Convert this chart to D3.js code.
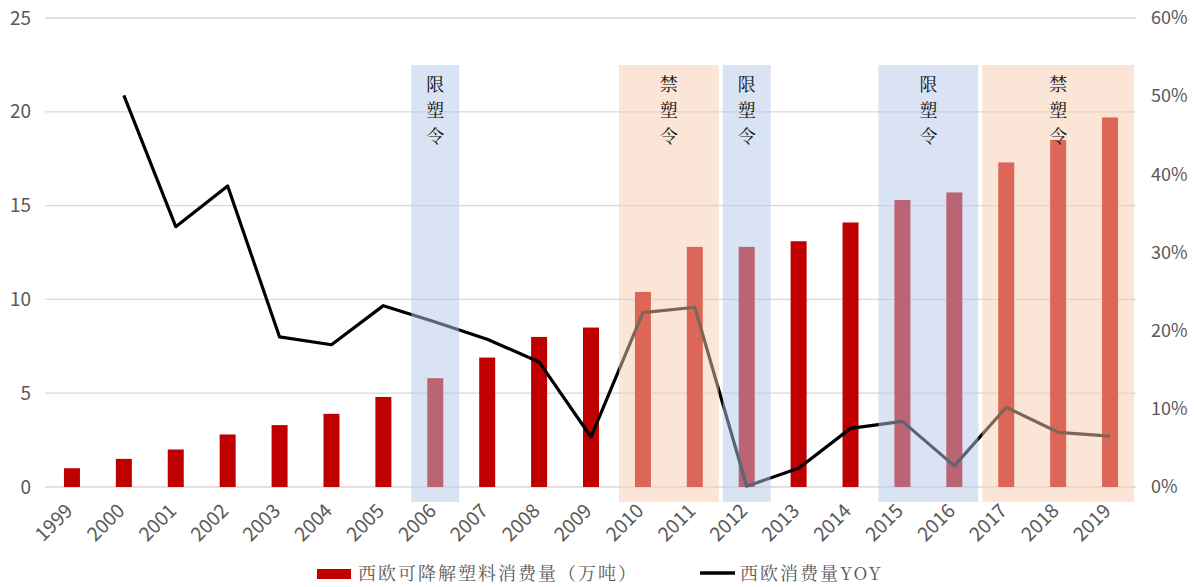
<!DOCTYPE html>
<html><head><meta charset="utf-8">
<script src="https://cdn.jsdelivr.net/npm/d3@7"></script>
<style>body{margin:0;background:#fff}svg{display:block}</style>
</head><body>
<script>
const years = ["1999","2000","2001","2002","2003","2004","2005","2006","2007","2008","2009","2010","2011","2012","2013","2014","2015","2016","2017","2018","2019"];
const consumption = [1.0,1.5,2.0,2.8,3.3,3.9,4.8,5.8,6.9,8.0,8.5,10.4,12.8,12.8,13.1,14.1,15.3,15.7,17.3,18.5,19.7];
const yoy = [null,50.1,33.3,38.5,19.2,18.2,23.2,21.1,18.9,16.0,6.4,22.3,23.0,0.1,2.4,7.5,8.4,2.7,10.2,7.0,6.5];
const leftTicks = [0,5,10,15,20,25];
const rightTicks = [0,10,20,30,40,50,60];
const policies = [
  {from:"2006", to:"2006", label:"限塑令", type:"limit"},
  {from:"2010", to:"2011", label:"禁塑令", type:"ban"},
  {from:"2012", to:"2012", label:"限塑令", type:"limit"},
  {from:"2015", to:"2016", label:"限塑令", type:"limit"},
  {from:"2017", to:"2019", label:"禁塑令", type:"ban"}
];
const legendLabels = ["西欧可降解塑料消费量（万吨）","西欧消费量YOY"];

const W=1195,H=587;
const svg=d3.select("body").append("svg").attr("width",W).attr("height",H);
const font='"Noto Sans CJK SC","Noto Sans",sans-serif';
const serif='"Noto Serif CJK SC","Noto Sans CJK SC",serif';
const x=d3.scaleBand().domain(years).range([46,1136]);
const y=d3.scaleLinear().domain([0,25]).range([487,18]);
const y2=d3.scaleLinear().domain([0,60]).range([487,18]);
const txt="#595959";

// gridlines
svg.append("g").selectAll("line").data(leftTicks).join("line")
  .attr("x1",45).attr("x2",1136).attr("y1",d=>y(d)).attr("y2",d=>y(d))
  .attr("stroke","#d9d9d9").attr("stroke-width",1.3);

// left axis
const la=svg.append("g").attr("transform","translate(31,0)")
  .call(d3.axisLeft(y).tickValues(leftTicks).tickSize(0).tickPadding(0));
la.select(".domain").remove();
la.selectAll("text").attr("fill",txt).attr("font-size",19).attr("font-family",font);

// right axis
const ra=svg.append("g").attr("transform","translate(1151,0)")
  .call(d3.axisRight(y2).tickValues(rightTicks).tickFormat(d=>d+"%").tickSize(0).tickPadding(0));
ra.select(".domain").remove();
ra.selectAll("text").attr("fill",txt).attr("font-size",18).attr("font-family",font);

// bars
const bw=16;
svg.append("g").selectAll("rect").data(consumption).join("rect")
  .attr("x",(d,i)=>x(years[i])+x.bandwidth()/2-bw/2).attr("width",bw)
  .attr("y",d=>y(d)).attr("height",d=>y(0)-y(d)).attr("fill","#c00000");

// line
const line=d3.line().defined(d=>d!=null).x((d,i)=>x(years[i])+x.bandwidth()/2).y(d=>y2(d));
svg.append("path").datum(yoy).attr("d",line).attr("fill","none")
  .attr("stroke","#000").attr("stroke-width",3.2).attr("stroke-linejoin","round");

// overlays
const og=svg.append("g");
policies.forEach(p=>{
  const x0=x(p.from)+2, x1=x(p.to)+x.bandwidth()-2;
  og.append("rect").attr("x",x0).attr("width",x1-x0).attr("y",65).attr("height",437)
    .attr("fill",p.type==="limit"?"#b4c7e7":"#f8cbad").attr("fill-opacity",0.5);
  const cx=(x0+x1)/2;
  Array.from(p.label).forEach((c,k)=>{
    og.append("text").attr("font-family",serif).attr("font-size",18).attr("fill","#111")
      .attr("text-anchor","middle").attr("x",cx).attr("y",91+k*26).text(c);
  });
});

// x labels
svg.append("g").selectAll("text").data(years).join("text")
  .attr("transform",d=>`translate(${x(d)+x.bandwidth()/2+2},${512}) rotate(-45)`)
  .attr("text-anchor","end").attr("font-size",19.5).attr("font-family",font).attr("fill",txt).text(d=>d);

// legend
const lg=svg.append("g");
lg.append("rect").attr("x",317).attr("y",569).attr("width",34).attr("height",10).attr("fill","#c00000");
lg.append("text").attr("x",358).attr("y",580).attr("font-size",18).attr("letter-spacing",2).attr("font-family",serif).attr("fill",txt).text(legendLabels[0]);
lg.append("line").attr("x1",700).attr("x2",735).attr("y1",573).attr("y2",573).attr("stroke","#000").attr("stroke-width",3.5);
lg.append("text").attr("x",740).attr("y",580).attr("font-size",18).attr("letter-spacing",2).attr("font-family",serif).attr("fill",txt).text(legendLabels[1]);
</script>
</body></html>
